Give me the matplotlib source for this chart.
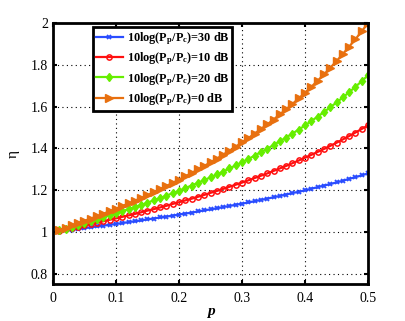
import matplotlib
matplotlib.use("Agg")
import matplotlib.pyplot as plt
from matplotlib.ticker import FormatStrFormatter

plt.rcParams['font.family'] = ['Liberation Serif', 'DejaVu Serif']
plt.rcParams['mathtext.fontset'] = 'custom'
plt.rcParams['mathtext.bf'] = 'Liberation Serif:bold'
plt.rcParams['mathtext.rm'] = 'Liberation Serif:bold'
plt.rcParams['mathtext.it'] = 'Liberation Serif:italic'

# p values, 0.01 .. 0.50
p = [i / 100 for i in range(1, 51)]

eta_30dB = [1.004, 1.007, 1.011, 1.015, 1.018, 1.022, 1.026, 1.030, 1.034, 1.038,
            1.042, 1.047, 1.051, 1.055, 1.060, 1.064, 1.069, 1.073, 1.078, 1.083,
            1.088, 1.092, 1.098, 1.103, 1.108, 1.113, 1.119, 1.124, 1.130, 1.135,
            1.141, 1.147, 1.153, 1.159, 1.166, 1.172, 1.179, 1.186, 1.192, 1.199,
            1.207, 1.214, 1.222, 1.229, 1.237, 1.245, 1.254, 1.262, 1.271, 1.280]
eta_10dB = [1.006, 1.012, 1.018, 1.025, 1.031, 1.038, 1.044, 1.051, 1.058, 1.065,
            1.072, 1.079, 1.086, 1.094, 1.102, 1.109, 1.117, 1.125, 1.134, 1.142,
            1.151, 1.159, 1.168, 1.177, 1.187, 1.196, 1.206, 1.216, 1.226, 1.236,
            1.247, 1.258, 1.269, 1.280, 1.292, 1.304, 1.316, 1.329, 1.342, 1.355,
            1.369, 1.383, 1.397, 1.412, 1.427, 1.443, 1.459, 1.476, 1.493, 1.510]
eta_20dB = [1.008, 1.016, 1.025, 1.033, 1.042, 1.051, 1.060, 1.070, 1.079, 1.089,
            1.099, 1.109, 1.119, 1.129, 1.140, 1.151, 1.162, 1.174, 1.185, 1.197,
            1.210, 1.222, 1.235, 1.248, 1.261, 1.275, 1.289, 1.304, 1.318, 1.334,
            1.349, 1.365, 1.382, 1.398, 1.416, 1.434, 1.452, 1.471, 1.490, 1.510,
            1.531, 1.552, 1.574, 1.597, 1.620, 1.644, 1.669, 1.695, 1.722, 1.750]
eta_0dB = [1.010, 1.020, 1.031, 1.042, 1.053, 1.064, 1.075, 1.087, 1.099, 1.111,
           1.124, 1.136, 1.149, 1.163, 1.176, 1.190, 1.205, 1.220, 1.235, 1.250,
           1.266, 1.282, 1.299, 1.316, 1.333, 1.351, 1.370, 1.389, 1.408, 1.429,
           1.449, 1.471, 1.493, 1.515, 1.538, 1.563, 1.587, 1.613, 1.639, 1.667,
           1.695, 1.724, 1.754, 1.786, 1.818, 1.852, 1.887, 1.923, 1.961, 2.000]

labels = [r'10log(P$_{\mathbf{p}}$/P$_{\mathbf{c}}$)=30 dB',
          r'10log(P$_{\mathbf{p}}$/P$_{\mathbf{c}}$)=10 dB',
          r'10log(P$_{\mathbf{p}}$/P$_{\mathbf{c}}$)=20 dB',
          r'10log(P$_{\mathbf{p}}$/P$_{\mathbf{c}}$)=0 dB']

fig = plt.figure(figsize=(4.06, 3.21), dpi=100)
ax = fig.add_axes([0.1305, 0.115, 0.776, 0.813])

ax.plot(p, eta_30dB, color='#2a4dff', lw=1.6, marker='x', ms=3, mew=1.3, label=labels[0])
ax.plot(p, eta_10dB, color='#ff1010', lw=1.6, marker='o', ms=3.8, mfc='none', mew=1.1, label=labels[1])
ax.plot(p, eta_20dB, color='#66ee00', lw=1.6, marker='d', ms=4.4, label=labels[2])
ax.plot(p, eta_0dB, color='#e8700f', lw=1.6, marker='>', ms=5.5, label=labels[3])

ax.set_xlim(0, 0.5)
ax.set_ylim(0.75, 2.0)
ax.set_xticks([0, 0.1, 0.2, 0.3, 0.4, 0.5])
ax.set_yticks([0.8, 1, 1.2, 1.4, 1.6, 1.8, 2])
ax.xaxis.set_major_formatter(FormatStrFormatter('%g'))
ax.yaxis.set_major_formatter(FormatStrFormatter('%g'))
ax.tick_params(direction='in', labelsize=10, width=1.5, length=3, top=True, right=True)
ax.tick_params(axis='x', pad=6)
for s in ax.spines.values():
    s.set_linewidth(2)
ax.grid(True, linestyle=(0, (1, 3)), color='black', lw=0.8)

ax.set_xlabel('p', fontstyle='italic', fontweight='bold', fontsize=11, labelpad=0)
ax.set_ylabel('η', fontsize=11, labelpad=8)

leg = ax.legend(loc='upper left', bbox_to_anchor=(0.127, 0.985), fancybox=False,
                framealpha=1, edgecolor='black', prop={'weight': 'bold', 'size': 8.8},
                handlelength=2.2, borderaxespad=0, labelspacing=0.3, borderpad=0.25,
                handletextpad=0.3)
leg.get_frame().set_linewidth(2)

fig.savefig('out.png', dpi=100)
